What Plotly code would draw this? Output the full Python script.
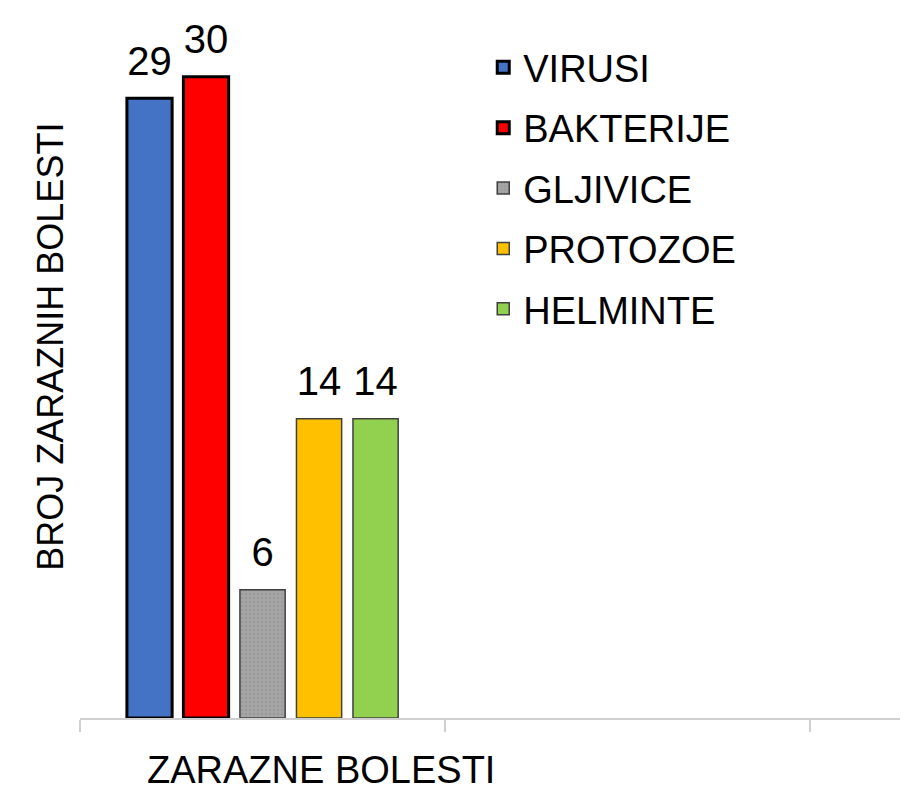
import plotly.graph_objects as go

categories = ["ZARAZNE BOLESTI"]
pad_categories = ["pad1", "pad2"]
series_names = ["VIRUSI", "BAKTERIJE", "GLJIVICE", "PROTOZOE", "HELMINTE"]
series_values = [29, 30, 6, 14, 14]
colors = ["#4472C4", "#FF0000", "#A5A5A5", "#FFC000", "#92D050"]
line_colors = ["#000000", "#000000", "#404040", "#404040", "#404040"]
line_widths = [3, 3, 1.5, 1.5, 1.5]
y_title = "BROJ ZARAZNIH BOLESTI"

FONT = "Liberation Sans, Arial, sans-serif"
BARGAP = 0.226

fig = go.Figure()
for i, (name, val) in enumerate(zip(series_names, series_values)):
    marker = dict(color=colors[i], line=dict(color=line_colors[i], width=line_widths[i]))
    if name == "GLJIVICE":
        marker["pattern"] = dict(shape=".", fgcolor="#8c8c8c", bgcolor=colors[i], size=4, solidity=0.3)
    fig.add_trace(go.Bar(
        x=categories, y=[val], name=name, marker=marker,
        legendgroup=name, hoverinfo="name+y",
    ))
for i, (name, val) in enumerate(zip(series_names, series_values)):
    fig.add_trace(go.Scatter(
        x=categories, y=[val], text=[str(val)], mode="markers+text",
        textposition="top center", textfont=dict(size=40, color="#000000", family=FONT),
        marker=dict(size=20, color="rgba(0,0,0,0)"), showlegend=False,
        legendgroup="labels", hoverinfo="skip", cliponaxis=False,
    ))

fig.update_layout(
    width=900, height=782,
    margin=dict(l=72, r=0, t=12, b=72),
    paper_bgcolor="white", plot_bgcolor="white",
    barmode="group", bargap=BARGAP, bargroupgap=0.2,
    scattermode="group", scattergap=BARGAP,
    font=dict(family=FONT, color="#000000"),
    legend=dict(x=0.487, y=0.977, xanchor="left", yanchor="top",
                font=dict(size=38, family=FONT), tracegroupgap=8,
                bgcolor="rgba(0,0,0,0)", traceorder="grouped"),
    showlegend=True,
)
fig.update_xaxes(
    type="category", categoryorder="array", categoryarray=categories + pad_categories,
    range=[-0.5, 1.768], tickson="boundaries", ticks="outside", ticklen=12,
    tickwidth=2, tickcolor="#d0d0d0", showline=True, linecolor="#d0d0d0", linewidth=2,
    showticklabels=False, showgrid=False, zeroline=False, fixedrange=True,
)
fig.update_yaxes(
    range=[0, 32.66], showticklabels=False, showgrid=False, zeroline=False,
    showline=False, ticks="", fixedrange=True,
)
fig.add_annotation(
    text=categories[0], xref="paper", yref="paper", x=0.291, y=-0.074,
    showarrow=False, xanchor="center", yanchor="middle",
    font=dict(size=38, family=FONT, color="#000000"),
)
fig.add_annotation(
    text=y_title, xref="paper", yref="paper", x=-0.035, y=0.532,
    showarrow=False, xanchor="center", yanchor="middle", textangle=-90,
    font=dict(size=36, family=FONT, color="#000000"),
)
fig.write_html("out.html")
